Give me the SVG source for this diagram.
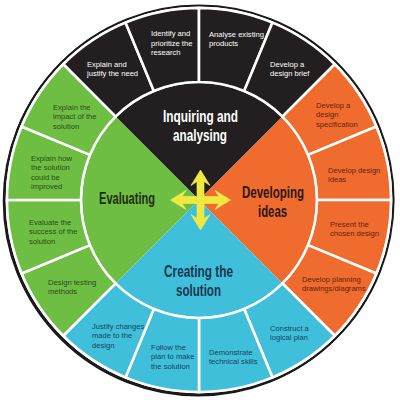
<svg xmlns="http://www.w3.org/2000/svg" width="400" height="400" viewBox="0 0 400 400">
<style>
.seg{stroke:#fff;stroke-width:2.6;stroke-linejoin:round}
.blk{fill:#231f20}.org{fill:#f06b2e}.blu{fill:#3fbfd9}.grn{fill:#6fbe44}
.t{font-family:"Liberation Sans",Arial,sans-serif;font-size:7.6px}
.tw{fill:#ffffff}.to{fill:#5e2410}.tb{fill:#1b3f5c}.tg{fill:#2b4a1a}
.h{font-family:"Liberation Sans",Arial,sans-serif;font-size:17px;font-weight:bold;text-anchor:middle}
</style>
<rect width="400" height="400" fill="#fff"/>
<circle cx="198" cy="201.2" r="194.3" fill="none" stroke="#1a1a1a" stroke-width="2"/>
<circle cx="199" cy="200" r="194.5" fill="#fff" stroke="#1a1a1a" stroke-width="2.2"/>

<g id="q-inquiring">
<path class="blk" d="M199 200 L116.27 117.27 A117 117 0 0 1 281.73 117.27 Z"/>
<text class="h" fill="#fff"><tspan x="200.5" y="122" textLength="75" lengthAdjust="spacingAndGlyphs">Inquiring and</tspan><tspan x="200" y="141" textLength="54" lengthAdjust="spacingAndGlyphs">analysing</tspan></text>
</g>
<g id="q-developing">
<path class="org" d="M199 200 L281.73 117.27 A117 117 0 0 1 281.73 282.73 Z"/>
<text class="h" fill="#2a1812"><tspan x="273" y="198" textLength="62" lengthAdjust="spacingAndGlyphs">Developing</tspan><tspan x="272.5" y="217" textLength="29" lengthAdjust="spacingAndGlyphs">ideas</tspan></text>
</g>
<g id="q-creating">
<path class="blu" d="M199 200 L281.73 282.73 A117 117 0 0 1 116.27 282.73 Z"/>
<text class="h" fill="#1b3550"><tspan x="198.5" y="277" textLength="69" lengthAdjust="spacingAndGlyphs">Creating the</tspan><tspan x="198.5" y="296" textLength="45" lengthAdjust="spacingAndGlyphs">solution</tspan></text>
</g>
<g id="q-evaluating">
<path class="grn" d="M199 200 L116.27 282.73 A117 117 0 0 1 116.27 117.27 Z"/>
<text class="h" fill="#1e2b12"><tspan x="127" y="204" textLength="56" lengthAdjust="spacingAndGlyphs">Evaluating</tspan></text>
</g>

<g id="s1">
<path class="seg blk" d="M63.23 64.23 A192 192 0 0 1 125.52 22.62 L153.84 90.98 A118 118 0 0 0 115.56 116.56 Z"/>
<text class="t tw"><tspan x="87" y="66.5">Explain and</tspan><tspan x="87" y="76.3">justify the need</tspan></text>
</g>
<g id="s2">
<path class="seg blk" d="M125.52 22.62 A192 192 0 0 1 199 8 L199 82 A118 118 0 0 0 153.84 90.98 Z"/>
<text class="t tw"><tspan x="151" y="36.2">Identify and</tspan><tspan x="151" y="45.8">prioritize the</tspan><tspan x="151" y="55.4">research</tspan></text>
</g>
<g id="s3">
<path class="seg blk" d="M199 8 A192 192 0 0 1 272.48 22.62 L244.16 90.98 A118 118 0 0 0 199 82 Z"/>
<text class="t tw"><tspan x="209" y="36.5">Analyse existing</tspan><tspan x="209" y="46.1">products</tspan></text>
</g>
<g id="s4">
<path class="seg blk" d="M272.48 22.62 A192 192 0 0 1 334.77 64.23 L282.44 116.56 A118 118 0 0 0 244.16 90.98 Z"/>
<text class="t tw"><tspan x="270" y="66.5">Develop a</tspan><tspan x="270" y="76.3">design brief</tspan></text>
</g>
<g id="s5">
<path class="seg org" d="M334.77 64.23 A192 192 0 0 1 376.38 126.52 L308.02 154.84 A118 118 0 0 0 282.44 116.56 Z"/>
<text class="t to"><tspan x="316" y="107.5">Develop a</tspan><tspan x="316" y="117.1">design</tspan><tspan x="316" y="126.7">specification</tspan></text>
</g>
<g id="s6">
<path class="seg org" d="M376.38 126.52 A192 192 0 0 1 391 200 L317 200 A118 118 0 0 0 308.02 154.84 Z"/>
<text class="t to"><tspan x="328" y="172.5">Develop design</tspan><tspan x="328" y="182.1">ideas</tspan></text>
</g>
<g id="s7">
<path class="seg org" d="M391 200 A192 192 0 0 1 376.38 273.48 L308.02 245.16 A118 118 0 0 0 317 200 Z"/>
<text class="t to"><tspan x="330" y="226.5">Present the</tspan><tspan x="330" y="236.1">chosen design</tspan></text>
</g>
<g id="s8">
<path class="seg org" d="M376.38 273.48 A192 192 0 0 1 334.77 335.77 L282.44 283.44 A118 118 0 0 0 308.02 245.16 Z"/>
<text class="t to"><tspan x="302" y="281.5">Develop planning</tspan><tspan x="302" y="291.3">drawings/diagrams</tspan></text>
</g>
<g id="s9">
<path class="seg blu" d="M334.77 335.77 A192 192 0 0 1 272.48 377.38 L244.16 309.02 A118 118 0 0 0 282.44 283.44 Z"/>
<text class="t tb"><tspan x="270" y="330.5">Construct a</tspan><tspan x="270" y="340.3">logical plan</tspan></text>
</g>
<g id="s10">
<path class="seg blu" d="M272.48 377.38 A192 192 0 0 1 199 392 L199 318 A118 118 0 0 0 244.16 309.02 Z"/>
<text class="t tb"><tspan x="209" y="354.5">Demonstrate</tspan><tspan x="209" y="364.1">technical skills</tspan></text>
</g>
<g id="s11">
<path class="seg blu" d="M199 392 A192 192 0 0 1 125.52 377.38 L153.84 309.02 A118 118 0 0 0 199 318 Z"/>
<text class="t tb"><tspan x="151" y="349.5">Follow the</tspan><tspan x="151" y="359.1">plan to make</tspan><tspan x="151" y="368.7">the solution</tspan></text>
</g>
<g id="s12">
<path class="seg blu" d="M125.52 377.38 A192 192 0 0 1 63.23 335.77 L115.56 283.44 A118 118 0 0 0 153.84 309.02 Z"/>
<text class="t tb"><tspan x="92" y="328.5">Justify changes</tspan><tspan x="92" y="338.1">made to the</tspan><tspan x="92" y="347.7">design</tspan></text>
</g>
<g id="s13">
<path class="seg grn" d="M63.23 335.77 A192 192 0 0 1 21.62 273.48 L89.98 245.16 A118 118 0 0 0 115.56 283.44 Z"/>
<text class="t tg"><tspan x="48" y="284.5">Design testing</tspan><tspan x="48" y="294.1">methods</tspan></text>
</g>
<g id="s14">
<path class="seg grn" d="M21.62 273.48 A192 192 0 0 1 7 200 L81 200 A118 118 0 0 0 89.98 245.16 Z"/>
<text class="t tg"><tspan x="29" y="224.5">Evaluate the</tspan><tspan x="29" y="234.1">success of the</tspan><tspan x="29" y="243.7">solution</tspan></text>
</g>
<g id="s15">
<path class="seg grn" d="M7 200 A192 192 0 0 1 21.62 126.52 L89.98 154.84 A118 118 0 0 0 81 200 Z"/>
<text class="t tg"><tspan x="31" y="160.5">Explain how</tspan><tspan x="31" y="170.1">the solution</tspan><tspan x="31" y="179.7">could be</tspan><tspan x="31" y="189.3">improved</tspan></text>
</g>
<g id="s16">
<path class="seg grn" d="M21.62 126.52 A192 192 0 0 1 63.23 64.23 L115.56 116.56 A118 118 0 0 0 89.98 154.84 Z"/>
<text class="t tg"><tspan x="53" y="109.5">Explain the</tspan><tspan x="53" y="119.1">impact of the</tspan><tspan x="53" y="128.7">solution</tspan></text>
</g>

<g id="connectors">
<polygon transform="translate(200.5 200)" fill="#f0e93c" stroke="#f4ee6a" stroke-width="0.6" stroke-linejoin="round" points="0,-30 9.5,-14.5 3.5,-18.5 3.5,-3.5 18.5,-3.5 14.5,-9.5 30,0 14.5,9.5 18.5,3.5 3.5,3.5 3.5,18.5 9.5,14.5 0,30 -9.5,14.5 -3.5,18.5 -3.5,3.5 -18.5,3.5 -14.5,9.5 -30,0 -14.5,-9.5 -18.5,-3.5 -3.5,-3.5 -3.5,-18.5 -9.5,-14.5"/>
</g>
</svg>
